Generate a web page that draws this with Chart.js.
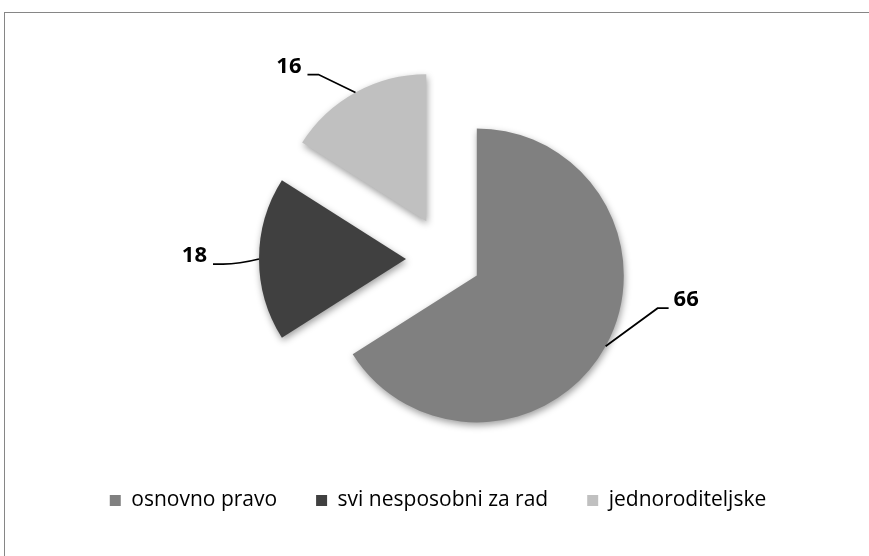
<!DOCTYPE html>
<html>
<head>
<meta charset="utf-8">
<script src="https://cdn.jsdelivr.net/npm/chart.js@4"></script>
<style>
  html, body { margin: 0; padding: 0; background: #fff; }
  #pie { display: block; }
</style>
</head>
<body>
<canvas id="pie" width="869" height="556"></canvas>
<script>
const categories = ['osnovno pravo', 'svi nesposobni za rad', 'jednoroditeljske'];
const shares = [66, 18, 16];
const sliceColors = ['#808080', '#404040', '#c0c0c0'];

// how far each slice is pulled out from the centre (px)
const explode = [34, 41, 43];
// pie sits a little right of the legend's centre
const pieNudgeX = 9;
// leader line: elbow offset from the slice edge, then a short horizontal tail
const leaders = [
    { dx: 52, dy: -38, tail: 11, curve: false },
    { dx: -36, dy: 5, tail: -10, curve: true },
    { dx: -37, dy: -18, tail: -11, curve: false },
];

const piePlugin = {
    id: 'pieExtras',
    beforeDraw(chart) {
        const ctx = chart.ctx;
        ctx.save();
        ctx.strokeStyle = '#868686';
        ctx.lineWidth = 1;
        ctx.strokeRect(4.5, 12.5, 2000, 2000);
        ctx.restore();
    },
    afterDatasetsUpdate(chart) {
        const meta = chart.getDatasetMeta(0);
        meta.data.forEach((arc, i) => {
            const mid = (arc.startAngle + arc.endAngle) / 2;
            arc.x += Math.cos(mid) * explode[i] + pieNudgeX;
            arc.y += Math.sin(mid) * explode[i];
        });
    },
    beforeDatasetsDraw(chart) {
        const ctx = chart.ctx;
        ctx.save();
        ctx.shadowColor = 'rgba(0,0,0,0.38)';
        ctx.shadowBlur = 7;
        ctx.shadowOffsetX = 1;
        ctx.shadowOffsetY = 3;
    },
    afterDatasetsDraw(chart) {
        const ctx = chart.ctx;
        ctx.restore();

        const meta = chart.getDatasetMeta(0);
        ctx.save();
        ctx.strokeStyle = '#000';
        ctx.lineWidth = 1.75;
        ctx.fillStyle = '#000';
        ctx.font = 'bold 22px "Open Sans", sans-serif';
        ctx.textBaseline = 'middle';
        meta.data.forEach((arc, i) => {
            const mid = (arc.startAngle + arc.endAngle) / 2;
            const ax = arc.x + Math.cos(mid) * arc.outerRadius;
            const ay = arc.y + Math.sin(mid) * arc.outerRadius;
            const L = leaders[i];
            const ex = ax + L.dx, ey = ay + L.dy;
            const tx = ex + L.tail;
            ctx.beginPath();
            ctx.moveTo(ax, ay);
            if (L.curve) {
                ctx.quadraticCurveTo(ex + (ax - ex) * 0.45, ey, ex, ey);
            } else {
                ctx.lineTo(ex, ey);
            }
            ctx.lineTo(tx, ey);
            ctx.stroke();
            const right = L.tail > 0;
            ctx.textAlign = right ? 'left' : 'right';
            ctx.fillText(String(shares[i]), tx + (right ? 5 : -6), ey - 8);
        });
        ctx.restore();
    }
};

new Chart(document.getElementById('pie'), {
    type: 'pie',
    data: {
        labels: categories,
        datasets: [{
            data: shares,
            backgroundColor: sliceColors,
            borderWidth: 0,
            radius: 147,
        }]
    },
    options: {
        responsive: false,
        animation: false,
        events: [],
        layout: { padding: { left: 7, right: 0, top: 67, bottom: 35 } },
        plugins: {
            legend: {
                position: 'bottom',
                labels: {
                    boxWidth: 11,
                    boxHeight: 11,
                    padding: 39,
                    color: '#000',
                    font: { family: '"Open Sans", sans-serif', size: 21 }
                }
            },
            tooltip: { enabled: false }
        }
    },
    plugins: [piePlugin]
});
</script>
</body>
</html>
